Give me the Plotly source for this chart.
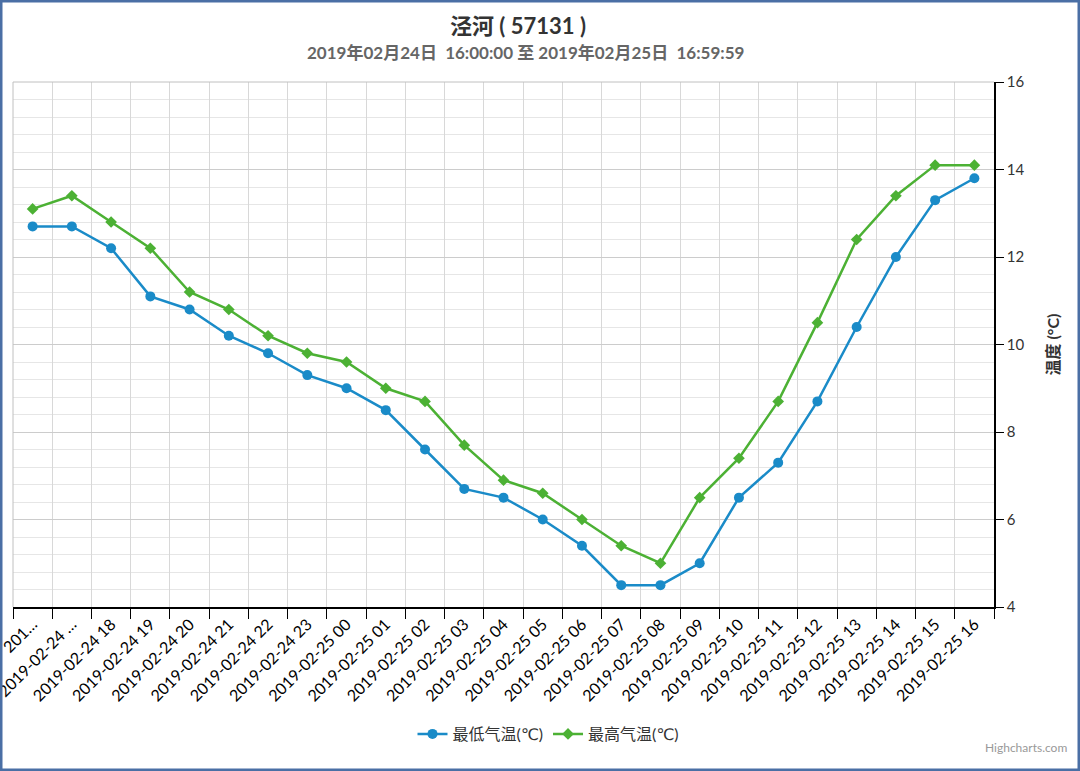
import plotly.graph_objects as go

hours = ["2019-02-24 16","2019-02-24 17"] + ["2019-02-24 %02d" % h for h in range(18, 24)] + ["2019-02-25 %02d" % h for h in range(0, 17)]
tick_text = ["201…", "2019-02-24 …"] + hours[2:]
t_min = [12.7,12.7,12.2,11.1,10.8,10.2,9.8,9.3,9.0,8.5,7.6,6.7,6.5,6.0,5.4,4.5,4.5,5.0,6.5,7.3,8.7,10.4,12.0,13.3,13.8]
t_max = [13.1,13.4,12.8,12.2,11.2,10.8,10.2,9.8,9.6,9.0,8.7,7.7,6.9,6.6,6.0,5.4,5.0,6.5,7.4,8.7,10.5,12.4,13.4,14.1,14.1]

font = "Lato, DejaVu Sans, Noto Sans CJK SC"
fig = go.Figure()
fig.add_trace(go.Scatter(x=hours, y=t_min, name="最低气温(℃)", mode="lines+markers",
                         line=dict(color="#1a8bc8", width=2.5), marker=dict(symbol="circle", size=10)))
fig.add_trace(go.Scatter(x=hours, y=t_max, name="最高气温(℃)", mode="lines+markers",
                         line=dict(color="#4cb134", width=2.5), marker=dict(symbol="diamond", size=9)))

PW, PH = 981, 525
fig.update_layout(
    width=1080, height=771, paper_bgcolor="white", plot_bgcolor="white",
    margin=dict(l=13, r=86, t=82, b=164, autoexpand=False),
    font=dict(family=font, color="#333", size=14),
    xaxis=dict(type="category", tickmode="array", tickvals=hours, ticktext=tick_text, tickangle=-45,
               tickson="boundaries", ticks="outside", ticklen=10, tickcolor="#000", automargin=False,
               showgrid=True, gridcolor="#d8d8d8", showline=True, linecolor="#000", linewidth=1.5,
               tickfont=dict(size=16, color="#000"), range=[-0.5, 24.5]),
    yaxis=dict(side="right", range=[4, 16], dtick=2, ticks="outside", ticklen=8, tickcolor="#000",
               automargin=False,
               showline=True, linecolor="#000", linewidth=1.5, gridcolor="#cccccc", zeroline=False,
               minor=dict(dtick=0.4, showgrid=True, gridcolor="#e6e6e6"),
               tickfont=dict(size=15, color="#333"),
               title=dict(text="<b>温度 (°C)</b>", font=dict(size=16, color="#333"), standoff=24)),
    legend=dict(orientation="h", x=0.5 + 45/PW, xanchor="center", y=-127/PH, yanchor="middle", font=dict(size=16, color="#333")),
    showlegend=True,
)
fig.add_annotation(text="<b>泾河 ( 57131 )</b>", xref="paper", yref="paper", x=0.5 + 14/PW, y=1 + 57/PH,
                   xanchor="center", yanchor="middle", showarrow=False, font=dict(size=22, color="#333"))
fig.add_annotation(text="<b>2019年02月24日  16:00:00 至 2019年02月25日  16:59:59</b>", xref="paper", yref="paper",
                   x=0.5 + 22/PW, y=1 + 29/PH, xanchor="center", yanchor="middle", showarrow=False,
                   font=dict(size=17, color="#666"))
fig.add_shape(type="line", xref="paper", yref="paper", x0=0, x1=1, y0=1, y1=1, line=dict(color="#c0c0c0", width=1))
fig.add_shape(type="line", xref="paper", yref="paper", x0=0, x1=0, y0=0, y1=1, line=dict(color="#c0c0c0", width=1))
fig.add_shape(type="rect", xref="paper", yref="paper", x0=-12/PW, x1=1+85/PW, y0=-163/PH, y1=1+81/PH,
              line=dict(color="#4a6fa5", width=3))
fig.add_annotation(text="Highcharts.com", xref="paper", yref="paper", x=1+75/PW, y=-150/PH,
                   xanchor="right", yanchor="bottom", showarrow=False, font=dict(size=12, color="#999"))
fig.write_html("out.html", config={"displayModeBar": False},
               post_script="document.body.style.margin='0';document.body.style.overflow='hidden';")
